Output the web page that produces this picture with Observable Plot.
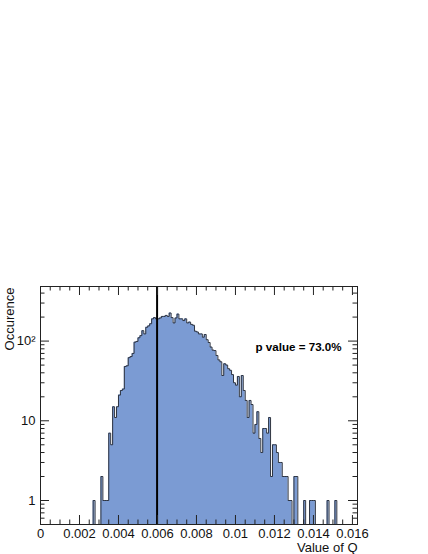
<!DOCTYPE html>
<html>
<head>
<meta charset="utf-8">
<script src="https://cdn.jsdelivr.net/npm/d3@7"></script>
<script src="https://cdn.jsdelivr.net/npm/@observablehq/plot@0.6"></script>
<style>
  html, body { margin: 0; padding: 0; background: #fff; }
  #chart svg { display: block; }
</style>
</head>
<body>
<div id="chart"></div>
<script>
// ---- data ----
const binWidth = 0.0001;          // histogram bin width in Q
const firstBinStart = 0.0027;     // left edge of first listed bin
const counts = [
  1, 0, 0, 0, 2, 1, 1, 1,
  7, 5, 15, 11, 15, 21, 24, 25, 48, 49, 62, 64, 70, 97, 99, 110, 117, 135, 123, 149,
  155, 165, 190, 197, 190, 190, 195, 204, 204, 210, 204, 225, 197, 169, 195, 218, 190, 190,
  181, 190, 169, 173, 162, 158, 133, 130, 123, 123, 112, 121, 104, 96, 84, 77, 76, 66, 58, 55,
  37, 52, 50, 45, 43, 38, 30, 28, 36, 20, 37, 24, 18, 11, 18, 16, 7, 9, 13, 6, 4, 8, 8, 7, 11,
  2, 5, 5, 4, 3, 3, 2, 2, 2, 1, 1, 0, 2, 2, 0, 0, 0, 1, 0, 0, 1, 1, 1, 0, 0, 0, 0, 0, 0, 1,
  0, 0, 0, 1
];
const observedQ = 0.00598;
const pValueText = "p value = 73.0%";
const pValueAt = [0.01103, 83];   // annotation anchor (Q, occurrence)

const xMajorTicks = [0, 0.002, 0.004, 0.006, 0.008, 0.010, 0.012, 0.014, 0.016];
const xTickLabels = ["0", "0.002", "0.004", "0.006", "0.008", "0.01", "0.012", "0.014", "0.016"];
const yMajorTicks = [1, 10, 100];
const yTickLabels = ["1", "10", "10\u00B2"];
const xTitle = "Value of Q";
const yTitle = "Occurence";

// ---- derived tables ----
const xMax = 0.01626, yMin = 0.5, yMax = 484;
const bins = counts.map((c, i) => ({x: firstBinStart + i * binWidth, c}));
const outline = [{x: bins[0].x, y: yMin}]
  .concat(bins.map(b => ({x: b.x, y: b.c > 0 ? b.c : yMin})))
  .concat([{x: bins[bins.length - 1].x + binWidth, y: yMin}]);

const xMinorTicks = d3.range(0, 0.0162, 0.0005).filter(v => Math.abs(v / 0.002 - Math.round(v / 0.002)) > 1e-6);
const yMinorTicks = [];
for (const dec of [0.1, 1, 10, 100]) for (let k = 2; k <= 9; k++) {
  const v = k * dec; if (v > yMin && v < yMax && !yMajorTicks.includes(v)) yMinorTicks.push(v);
}

const W = 428, H = 554;
const mL = 40, mR = 71, mT = 286, mB = 30;
const innerW = W - mL - mR, innerH = H - mT - mB;
const majLen = 9, minLen = 4.5;
const tickColor = "#222";
const font = "'Liberation Sans', Arial, Helvetica, sans-serif";

const chart = Plot.plot({
  width: W, height: H,
  marginLeft: mL, marginRight: mR, marginTop: mT, marginBottom: mB,
  style: {fontFamily: font, background: "#fff"},
  x: {domain: [0, xMax], axis: null},
  y: {type: "log", domain: [yMin, yMax], axis: null},
  marks: [
    Plot.areaY(outline, {x: "x", y1: yMin, y2: "y", curve: "step-after", fill: "#7b9bd3"}),
    Plot.line(outline, {x: "x", y: "y", curve: "step-after", stroke: "#2e3440", strokeWidth: 1}),
    Plot.ruleX([observedQ], {stroke: "#000", strokeWidth: 2}),
    Plot.frame({stroke: "#222", strokeWidth: 1}),
    // x ticks bottom & top (inward)
    Plot.tickX(xMajorTicks, {x: d => d, insetTop: innerH - majLen, stroke: tickColor}),
    Plot.tickX(xMinorTicks, {x: d => d, insetTop: innerH - minLen, stroke: tickColor}),
    Plot.tickX(xMajorTicks, {x: d => d, insetBottom: innerH - majLen, stroke: tickColor}),
    Plot.tickX(xMinorTicks, {x: d => d, insetBottom: innerH - minLen, stroke: tickColor}),
    // y ticks left & right (inward)
    Plot.tickY(yMajorTicks, {y: d => d, insetRight: innerW - majLen, stroke: tickColor}),
    Plot.tickY(yMinorTicks, {y: d => d, insetRight: innerW - minLen, stroke: tickColor}),
    Plot.tickY(yMajorTicks, {y: d => d, insetLeft: innerW - majLen, stroke: tickColor}),
    Plot.tickY(yMinorTicks, {y: d => d, insetLeft: innerW - minLen, stroke: tickColor}),
    // tick labels
    Plot.text(xMajorTicks, {x: d => d, text: (d, i) => xTickLabels[i], frameAnchor: "bottom",
      lineAnchor: "top", dy: 4, fontSize: 13, fill: "#111"}),
    Plot.text(yMajorTicks, {y: d => d, text: (d, i) => yTickLabels[i], frameAnchor: "left",
      textAnchor: "end", lineAnchor: "middle", dx: -5, fontSize: 13, fill: "#111"}),
    // axis titles
    Plot.text([xTitle], {text: d => d, frameAnchor: "bottom-right", textAnchor: "end",
      lineAnchor: "middle", dy: 23, fontSize: 13, fill: "#111"}),
    Plot.text([yTitle], {text: d => d, frameAnchor: "top-left", rotate: -90, textAnchor: "end",
      lineAnchor: "middle", dx: -31, dy: 1, fontSize: 13, fill: "#111"}),
    // annotation
    Plot.text([pValueText], {x: () => pValueAt[0], y: () => pValueAt[1], text: d => d,
      textAnchor: "start", lineAnchor: "middle", fontSize: 11.6, fontWeight: "bold", fill: "#000"})
  ]
});
document.getElementById("chart").appendChild(chart);
</script>
</body>
</html>
